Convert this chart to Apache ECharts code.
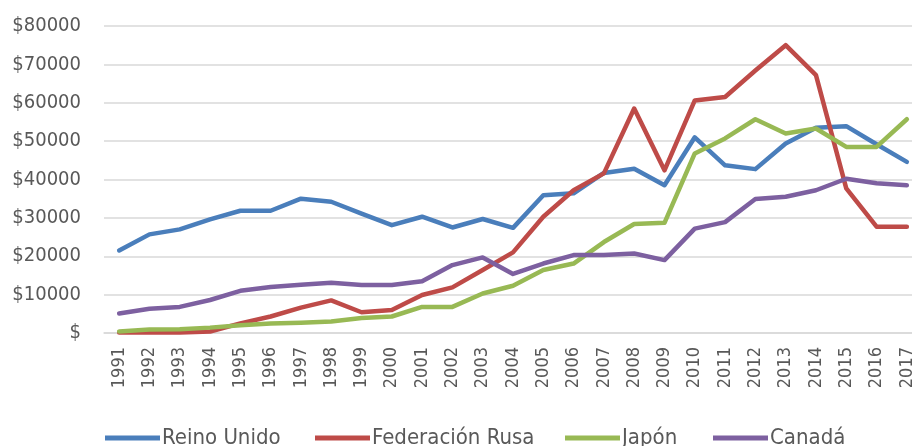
<!DOCTYPE html>
<html>
<head>
<meta charset="utf-8">
<script src="https://cdn.jsdelivr.net/npm/echarts@6/dist/echarts.min.js"></script>
<style>
  html, body { margin: 0; padding: 0; background: #fff; }
  #chart { width: 912px; height: 446px; }
</style>
</head>
<body>
<div id="chart"></div>
<script>
const years = ["1991", "1992", "1993", "1994", "1995", "1996", "1997", "1998", "1999", "2000",
    "2001", "2002", "2003", "2004", "2005", "2006", "2007", "2008", "2009", "2010",
    "2011", "2012", "2013", "2014", "2015", "2016", "2017"];

const reinoUnido = [21500, 25700, 27000, 29600, 31850, 31850, 35000, 34200, 31100, 28100,
    30300, 27500, 29700, 27400, 35900, 36400, 41700, 42800, 38500, 51000,
    43700, 42700, 49400, 53500, 53900, 49200, 44600];

const federacionRusa = [100, 100, 100, 400, 2500, 4300, 6600, 8500, 5400, 6000,
    9900, 11900, 16400, 21000, 30300, 37200, 41600, 58500, 42400, 60600,
    61500, 68400, 75000, 67200, 37700, 27700, 27700];

const japon = [400, 900, 1000, 1400, 2000, 2500, 2700, 3000, 3900, 4300,
    6800, 6800, 10300, 12300, 16400, 18100, 23700, 28400, 28700, 46800,
    50700, 55700, 52000, 53300, 48500, 48500, 55700];

const canada = [5100, 6300, 6800, 8600, 11000, 12000, 12600, 13100, 12500, 12500,
    13500, 17700, 19700, 15400, 18100, 20300, 20300, 20700, 19000, 27200,
    28900, 34900, 35500, 37200, 40200, 39000, 38500];

const seriesNames = ["Reino Unido", "Federación Rusa", "Japón", "Canadá"];
const seriesColors = ["#4a7ebb", "#be4b48", "#98b954", "#7d60a0"];
// left edge of each legend entry
const legendLeft = [105, 315, 565, 713];

const font = "'DejaVu Sans Condensed', sans-serif";
const chart = echarts.init(document.getElementById("chart"));

function lineSeries(name, data, color) {
    return {
        name: name,
        type: "line",
        data: data,
        showSymbol: false,
        symbol: "none",
        color: color,
        lineStyle: { width: 4.5, color: color, cap: "round", join: "round" }
    };
}

const legends = seriesNames.map((name, i) => ({
    top: 427,
    left: legendLeft[i],
    padding: 0,
    icon: "rect",
    itemWidth: 55,
    itemHeight: 5,
    textStyle: { color: "#595959", fontSize: 22, fontFamily: font, padding: [0, 0, 0, -3] },
    data: [name]
}));

const option = {
    animation: false,
    backgroundColor: "#ffffff",
    grid: {
        left: 104, width: 818, top: 26, bottom: 113,
        containLabel: false, outerBoundsMode: "none"
    },
    legend: legends,
    xAxis: {
        type: "category",
        data: years,
        boundaryGap: true,
        axisLine: { show: true, lineStyle: { color: "#d9d9d9", width: 1.5 } },
        axisTick: { show: false },
        axisLabel: {
            interval: 0,
            rotate: 90,
            margin: 14,
            color: "#595959",
            fontSize: 18,
            fontFamily: font
        }
    },
    yAxis: {
        type: "value",
        min: 0,
        max: 80000,
        interval: 10000,
        axisLine: { show: false },
        axisTick: { show: false },
        splitLine: { lineStyle: { color: "#d9d9d9", width: 1.5 } },
        axisLabel: {
            margin: 23,
            color: "#595959",
            fontSize: 20,
            fontFamily: font,
            formatter: v => (v === 0 ? "$" : "$" + v)
        }
    },
    series: [
        lineSeries(seriesNames[0], reinoUnido, seriesColors[0]),
        lineSeries(seriesNames[1], federacionRusa, seriesColors[1]),
        lineSeries(seriesNames[2], japon, seriesColors[2]),
        lineSeries(seriesNames[3], canada, seriesColors[3])
    ]
};

chart.setOption(option);
</script>
</body>
</html>
